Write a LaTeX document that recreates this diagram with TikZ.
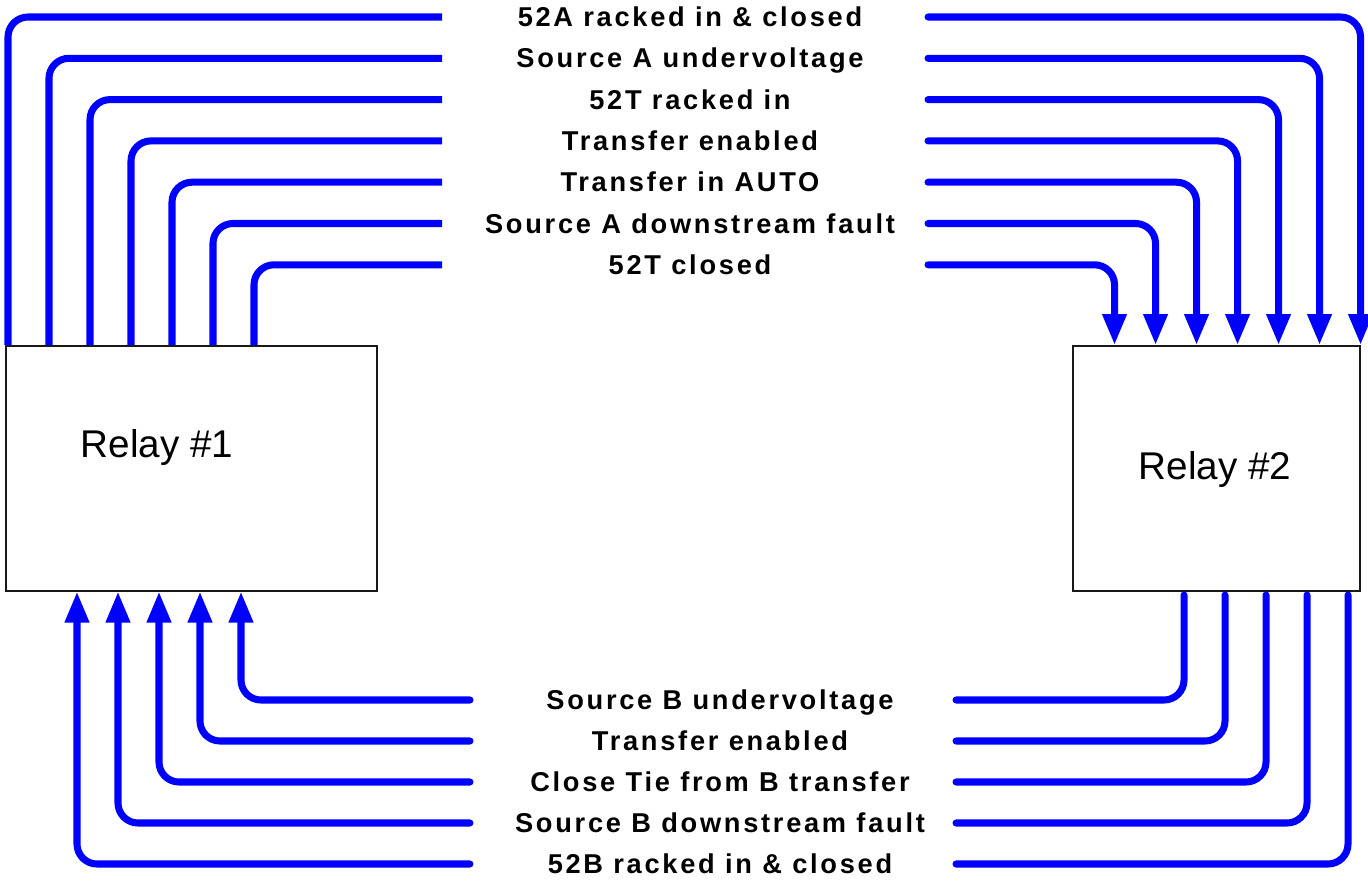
\documentclass[tikz,border=0pt]{standalone}
\usepackage{fontspec}
\setmainfont{Liberation Sans}
\newfontfamily\sigfont[LetterSpace=10]{Liberation Sans Bold}
\usetikzlibrary{arrows.meta,calc}

\tikzset{
  relay/.style={draw=black!90, fill=white, line width=0.9pt, anchor=north west, minimum height=4.9cm, inner sep=0pt},
  relaytext/.style={font=\fontsize{22}{26}\selectfont, anchor=base, inner sep=0pt},
  sig/.style={font=\sigfont\fontsize{15.5}{18}\selectfont, anchor=base, inner sep=0pt},
  wire/.style={blue, line width=4pt, rounded corners=0.4cm},
  feed/.style={wire, -{Triangle[length=0.62cm,width=0.46cm]}},
}

\begin{document}
\begin{tikzpicture}[x=0.02cm, y=-0.02cm]
\useasboundingbox (0,0) rectangle (1368,882);

\node[relay, minimum width=7.42cm] (r1) at (5,345) {};
\node[relay, minimum width=5.74cm] (r2) at (1072,345) {};
\node[relaytext] (t1) at (157,457) {Relay \#1};
\node[relaytext] (t2) at (1215,479) {Relay \#2};

\foreach \i/\txt in {1/52A racked in \& closed, 2/Source A undervoltage, 3/52T racked in,
    4/Transfer enabled, 5/Transfer in AUTO, 6/Source A downstream fault, 7/52T closed} {
  \pgfmathsetmacro\yy{17+41.3*(\i-1)}
  \pgfmathsetmacro\dx{41*(\i-1)}
  \node[sig] (a\i) at (690,\yy+9.5) {\txt};
  \coordinate (al\i) at (442,\yy);
  \coordinate (ar\i) at (928,\yy);
  \draw[wire, line cap=butt] ($(r1.north west)+(3+\dx,0)$) |- (al\i);
  \draw[feed, line cap=round] (ar\i) -| ($(r2.north east)+(-\dx,0)$);
}

\foreach \i/\txt in {1/Source B undervoltage, 2/Transfer enabled, 3/Close Tie from B transfer,
    4/Source B downstream fault, 5/52B racked in \& closed} {
  \pgfmathsetmacro\yy{700+41*(\i-1)}
  \pgfmathsetmacro\dx{41*(\i-1)}
  \node[sig] (b\i) at (720,\yy+9.5) {\txt};
  \coordinate (bl\i) at (470,\yy);
  \coordinate (br\i) at (956,\yy);
  \draw[feed, line cap=round] (bl\i) -| ($(r1.south west)+(236-\dx,0)$);
  \draw[wire, line cap=round] ($(r2.south west)+(112+\dx,3.5)$) |- (br\i);
}

\end{tikzpicture}
\end{document}
